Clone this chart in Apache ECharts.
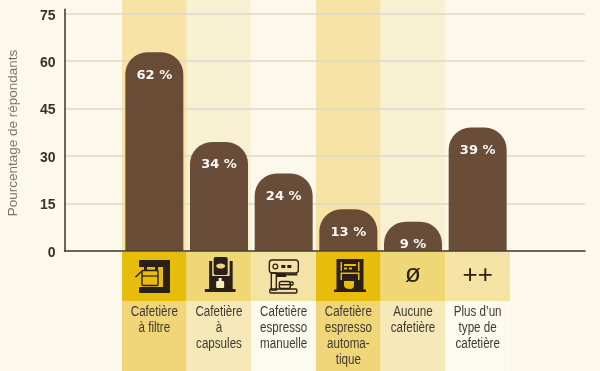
<!DOCTYPE html>
<html>
<head>
<meta charset="utf-8">
<style>
  html, body { margin: 0; padding: 0; background: #fcf9ec; }
  #chart { width: 600px; height: 371px; }
</style>
<script src="https://cdn.jsdelivr.net/npm/echarts@6/dist/echarts.min.js"></script>
</head>
<body>
<div id="chart"></div>
<script>
// data
var categories = ['Cafetière\nà filtre', 'Cafetière\nà\ncapsules', 'Cafetière\nespresso\nmanuelle', 'Cafetière\nespresso\nautoma-\ntique', 'Aucune\ncafetière', 'Plus d\u2019un\ntype de\ncafetière'];
// bar heights as measured against the axis, the printed labels are rounded
var barValues = [62.8, 34.4, 24.4, 13.1, 9.2, 39];
var barLabels = ['62 %', '34 %', '24 %', '13 %', '9 %', '39 %'];
var yTicks = [0, 15, 30, 45, 60, 75];

// column colours: chart part, icon row, text row
var topColors = ['#f7e3a5', '#f8f0d2', '#fcf9ec', '#f7e3a5', '#f8f0d2', '#fcf9ec'];
var iconColors = ['#e6bd0c', '#efd677', '#f5e3a6', '#e6bd0c', '#efd677', '#f5e3a6'];
var textColors = ['#f0d678', '#f6e8b8', '#fdfaf0', '#f0d678', '#f6e8b8', '#fdfaf0'];

var dark = '#2a2016';
var yAxisMax = 76.4; // axis line runs a bit past 75

function box(x, y, w, h, fill, r) {
  return { type: 'rect', shape: { x: x, y: y, width: w, height: h, r: r || 0 }, style: { fill: fill } };
}
function frame(x, y, w, h, r) {
  return { type: 'rect', shape: { x: x, y: y, width: w, height: h, r: r || 0 }, style: { fill: 'none', stroke: dark, lineWidth: 1.4 } };
}

// icons in local pixels, 0,0 is the top left of the icon cell
function icon(i, bg) {
  if (i == 0) {
    return [
      box(17, 8, 31, 7, dark, 1),
      box(41, 8, 7, 33, dark, 1),
      box(17, 35, 31, 6, dark, 1),
      box(22, 15, 3, 3, dark),
      box(33, 15, 3, 3, dark),
      frame(20, 18.5, 16, 15, 1),
      { type: 'line', shape: { x1: 13.5, y1: 25, x2: 20, y2: 19 }, style: { stroke: dark, lineWidth: 1.4 } },
      { type: 'line', shape: { x1: 20, y1: 24, x2: 36, y2: 24 }, style: { stroke: dark, lineWidth: 1.2 } }
    ];
  }
  if (i == 1) {
    return [
      box(22.5, 9, 3, 29, dark),
      box(43, 9, 3, 29, dark),
      box(27, 5, 14, 18, dark, 2),
      box(23, 24, 22, 14, dark),
      box(18, 37, 31, 3, dark, 1),
      { type: 'ellipse', shape: { cx: 34, cy: 14, rx: 4.5, ry: 2.6 }, style: { fill: bg } },
      box(29.5, 29, 8, 7, '#f8ecc0', 1),
      box(32, 26, 3, 3, '#f8ecc0')
    ];
  }
  if (i == 2) {
    return [
      frame(18, 8, 29, 13, 3),
      frame(20, 21, 5, 17),
      frame(18.5, 37, 27, 4, 1),
      { type: 'circle', shape: { cx: 24, cy: 14.5, r: 2.4 }, style: { fill: 'none', stroke: dark, lineWidth: 1.2 } },
      box(30, 13, 4, 3, dark),
      box(36, 13, 4, 3, dark),
      box(25, 21, 10, 4, dark),
      box(35, 21.5, 11, 2, dark),
      frame(28, 29.5, 11, 7, 2),
      box(28, 32, 11, 1.4, dark),
      frame(39, 30, 2.8, 3, 1)
    ];
  }
  if (i == 3) {
    return [
      box(20.5, 7, 4, 31, dark),
      box(43.5, 7, 4, 31, dark),
      box(24, 7, 20, 3, dark),
      box(26, 10, 16, 9, dark),
      box(28, 12, 12, 2, bg),
      box(28, 15.5, 3, 2, bg),
      box(33, 15.5, 3, 2, bg),
      box(24, 19, 20, 1.5, dark),
      box(26, 22, 16, 6, dark),
      box(24, 28, 20, 10, dark),
      { type: 'path', shape: { pathData: 'M28 29 L38 29 L38 33 Q38 37 34 37 Q28 37 28 33 Z', layout: 'center', x: 28, y: 29, width: 10, height: 8 }, style: { fill: bg } },
      box(18, 37.5, 32, 2.5, dark)
    ];
  }
  return [];
}

var myChart = echarts.init(document.getElementById('chart'));

function renderColumn(params, api) {
  var i = api.value(0);
  var center = api.coord([i, 0]);
  var w = api.size([1, 0])[0];
  var left = center[0] - w / 2;
  var kids = [
    box(left, 0, w, 250, topColors[i]),
    box(left, 252, w, 49, iconColors[i]),
    box(left, 301, w, 70, textColors[i])
  ];
  if (i < 4) {
    kids.push({ type: 'group', x: left, y: 252, children: icon(i, iconColors[i]) });
  } else {
    kids.push({
      type: 'text',
      style: {
        text: i == 4 ? 'ø' : '++',
        x: center[0],
        y: i == 4 ? 275 : 276,
        fill: dark,
        align: 'center',
        verticalAlign: 'middle',
        font: '26px "Liberation Sans"'
      }
    });
  }
  // no narrow font here, so the category text is squeezed sideways
  kids.push({
    type: 'group',
    x: center[0],
    y: 304.5,
    scaleX: 0.83,
    children: [{
      type: 'text',
      style: {
        text: categories[i],
        x: 0,
        y: 0,
        fill: '#3f3a30',
        align: 'center',
        verticalAlign: 'top',
        font: '14px "Liberation Sans"',
        lineHeight: 16
      }
    }]
  });
  return { type: 'group', children: kids };
}

var option = {
  backgroundColor: '#fcf9ec',
  animation: false,
  grid: [
    { left: 64.5, top: 9.3, width: 520.5, height: 241.4, outerBoundsMode: 'none' },
    { left: 122, top: 9.3, width: 388, height: 241.4, outerBoundsMode: 'none' }
  ],
  xAxis: [
    {
      type: 'category',
      gridIndex: 0,
      data: [''],
      z: 5,
      axisTick: { show: false },
      axisLabel: { show: false },
      axisLine: { lineStyle: { color: '#3d3326', width: 1.5 } }
    },
    {
      type: 'category',
      gridIndex: 1,
      data: categories,
      axisTick: { show: false },
      axisLine: { show: false },
      axisLabel: { show: false }
    }
  ],
  yAxis: [
    {
      type: 'value',
      gridIndex: 0,
      min: yTicks[0],
      max: yAxisMax,
      interval: 15,
      name: 'Pourcentage de répondants',
      nameLocation: 'middle',
      nameGap: 44,
      nameTextStyle: { color: '#7d7464', fontFamily: '"Liberation Sans"', fontSize: 13.5, padding: [0, 6, 0, 0] },
      axisLine: { show: true, lineStyle: { color: '#3d3326', width: 1.5 } },
      axisTick: { show: false },
      axisLabel: {
        margin: 9,
        showMaxLabel: false,
        color: '#3a3028',
        fontFamily: '"Liberation Sans"',
        fontWeight: 'bold',
        fontSize: 14,
        verticalAlign: 'top',
        lineHeight: 4
      },
      splitLine: { showMaxLine: false, showMinLine: false, lineStyle: { color: '#ddd8c8', width: 1.5 } }
    },
    {
      type: 'value',
      gridIndex: 1,
      min: yTicks[0],
      max: yAxisMax,
      show: false
    }
  ],
  series: [
    {
      type: 'custom',
      xAxisIndex: 1,
      yAxisIndex: 1,
      z: -1,
      silent: true,
      renderItem: renderColumn,
      data: categories.map(function (c, i) { return [i]; })
    },
    {
      type: 'bar',
      xAxisIndex: 1,
      yAxisIndex: 1,
      barWidth: 58,
      z: 3,
      data: barValues,
      itemStyle: { color: '#644733', opacity: 0.97, borderRadius: [22, 22, 0, 0] },
      label: {
        show: true,
        position: 'insideTop',
        distance: 16.5,
        color: '#ffffff',
        fontFamily: '"DejaVu Sans"',
        fontWeight: 'bold',
        fontSize: 13,
        formatter: function (p) { return barLabels[p.dataIndex]; }
      }
    }
  ]
};

myChart.setOption(option);
</script>
</body>
</html>
